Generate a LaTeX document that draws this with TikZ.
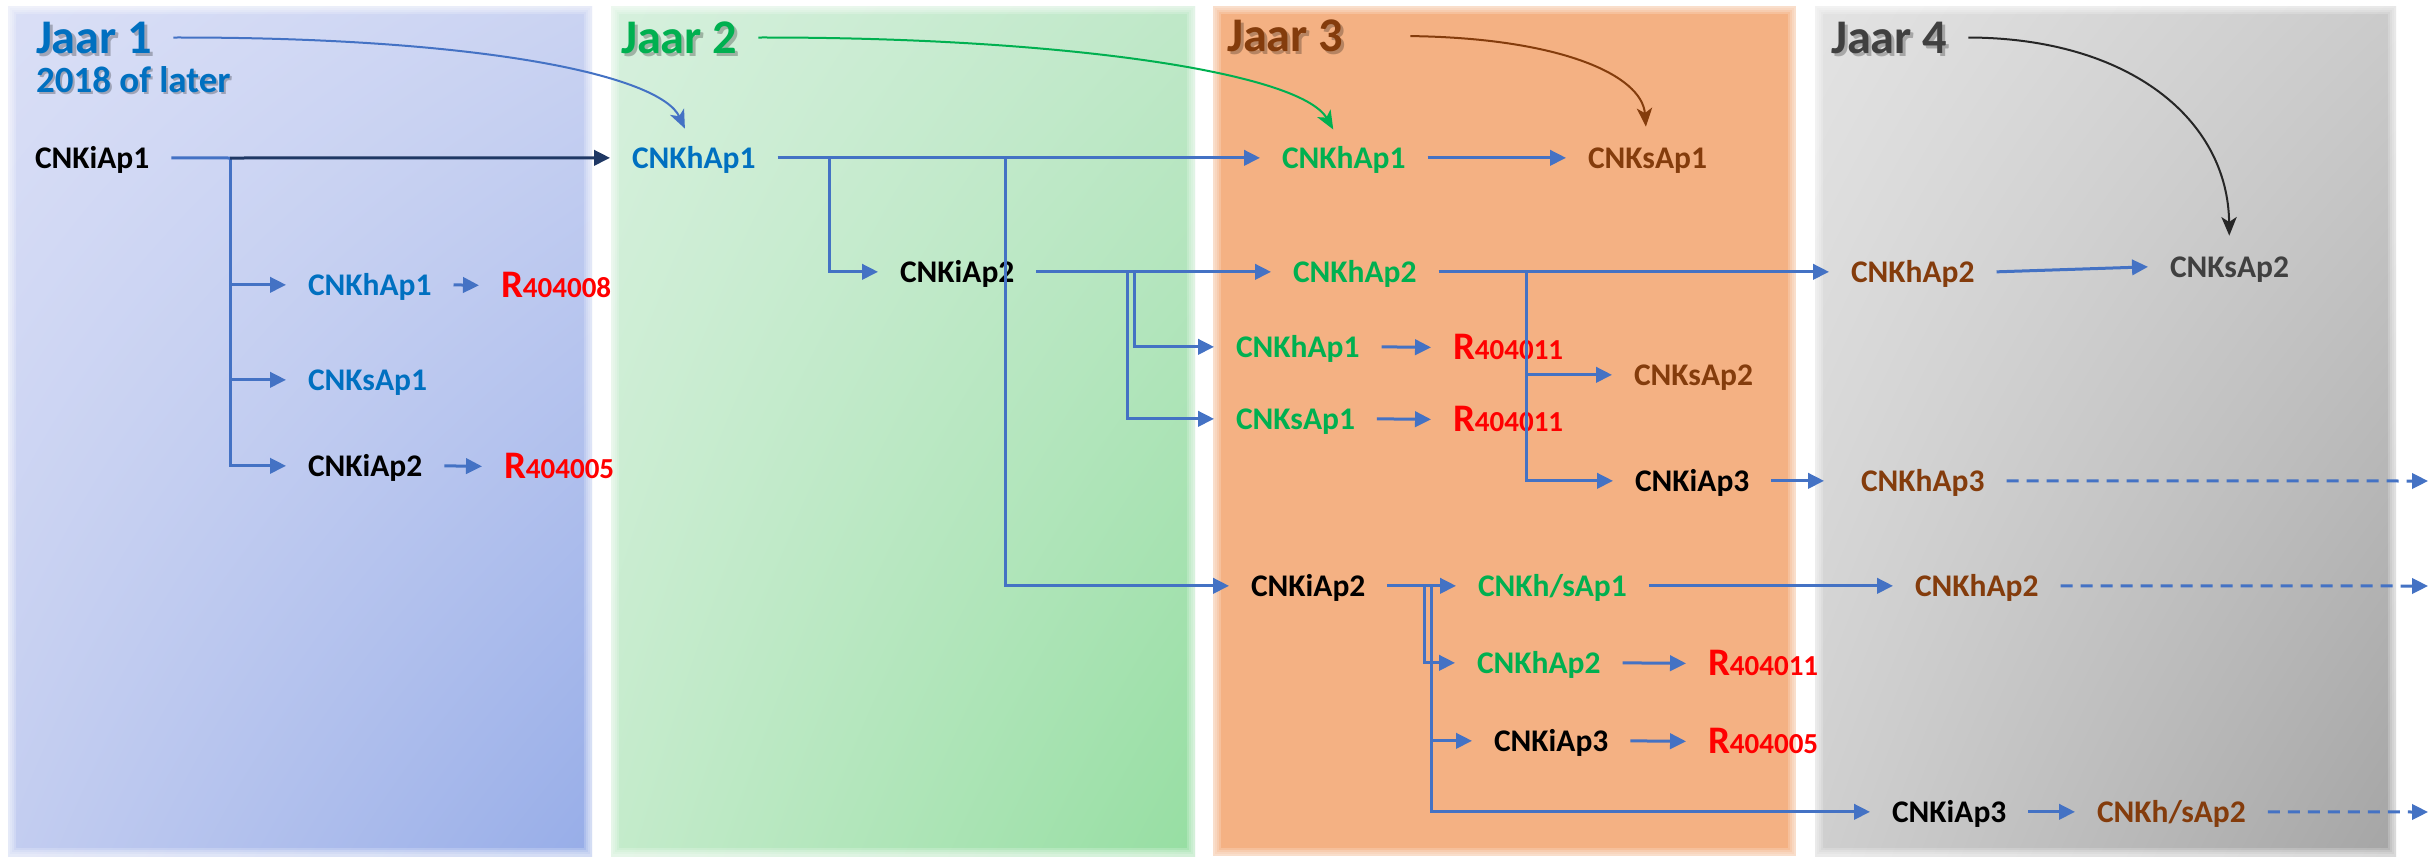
\documentclass[tikz,border=0pt]{standalone}
\usepackage{fontspec}
\setmainfont{Carlito}
\usetikzlibrary{arrows.meta,shadings}
\definecolor{lblue}{HTML}{4472C4}
\definecolor{navy}{HTML}{1F3864}
\definecolor{tblue}{HTML}{0070C0}
\definecolor{tgreen}{HTML}{00B050}
\definecolor{tbrown}{HTML}{843C0C}
\definecolor{tgray}{HTML}{404040}
\definecolor{tred}{HTML}{FF0000}
\definecolor{pAul}{HTML}{DADFF6}
\definecolor{pAur}{HTML}{CAD3F2}
\definecolor{pAll}{HTML}{C3CDF0}
\definecolor{pAlr}{HTML}{97ADE8}
\definecolor{pBul}{HTML}{D6F0DD}
\definecolor{pBur}{HTML}{BFE8C8}
\definecolor{pBll}{HTML}{C4EBCB}
\definecolor{pBlr}{HTML}{96DEA2}
\definecolor{pC}{HTML}{F4B183}
\definecolor{pDul}{HTML}{E3E3E3}
\definecolor{pDur}{HTML}{CBCBCB}
\definecolor{pDll}{HTML}{CFCFCF}
\definecolor{pDlr}{HTML}{A5A5A5}
\newcommand{\Rcode}[1]{{\fontsize{11.7}{13}\selectfont R}{\fontsize{8.7}{10}\selectfont #1}}
\tikzset{
  lbl/.style={font=\bfseries\fontsize{9.45}{11}\selectfont, inner sep=0pt, outer xsep=6.6pt, outer ysep=0pt, text height=6.1pt, text depth=0pt, anchor=text},
  rlbl/.style={font=\bfseries, text=tred, inner sep=0pt, outer xsep=6.6pt, outer ysep=0pt, text height=7pt, text depth=0pt, anchor=text},
  jlbl/.style={font=\bfseries\fontsize{14.5}{17}\selectfont, inner sep=0pt, outer xsep=6.3pt, outer ysep=0pt, text height=9.3pt, text depth=0pt, anchor=text},
  jshadow/.style={text=black, opacity=0.25},
  conn/.style={draw=lblue, line width=0.9pt, -{Triangle[length=4.8pt,width=4.6pt]}},
  navyconn/.style={draw=navy, line width=0.9pt, -{Triangle[length=4.8pt,width=4.6pt]}},
  dconn/.style={conn, dash pattern=on 3.6pt off 2.4pt},
  curve/.style={line width=0.6pt, -{Stealth[length=5.6pt,width=4.6pt,inset=1.5pt]}, shorten >=6.3pt},
  softedge/.style={draw=white, opacity=0.2},
}
\begin{document}
\begin{tikzpicture}[x=0.3pt,y=-0.3pt]
\path[use as bounding box, fill=white] (0,0) rectangle (2430,860);
% panels
\shade[upper left=pAul, upper right=pAur, lower left=pAll, lower right=pAlr] (8,6) rectangle (592,856);
\shade[upper left=pBul, upper right=pBur, lower left=pBll, lower right=pBlr] (611,6) rectangle (1195,856);
\fill[pC] (1213,6) rectangle (1796,856);
\shade[upper left=pDul, upper right=pDur, lower left=pDll, lower right=pDlr] (1815,6) rectangle (2396,856);
% soft panel edges
\foreach \w in {1.2,2.4,3.6,4.8}{
  \draw[softedge, line width=\w pt] (8,6) rectangle (592,856);
  \draw[softedge, line width=\w pt] (611,6) rectangle (1195,856);
  \draw[softedge, line width=\w pt] (1213,6) rectangle (1796,856);
  \draw[softedge, line width=\w pt] (1815,6) rectangle (2396,856);
}

% year labels (shadow + text)
\node[jlbl, jshadow] (j1s) at (39,56) {Jaar 1};
\node[jlbl, jshadow] (j2s) at (624,56) {Jaar 2};
\node[jlbl, jshadow] (j3s) at (1230,54) {Jaar 3};
\node[jlbl, jshadow] (j4s) at (1834,56) {Jaar 4};
\node[jlbl, jshadow, font=\bfseries\fontsize{11.1}{13}\selectfont] (ys) at (38,94) {2018 of later};
\node[jlbl, text=tblue] (j1) at (36,53) {Jaar 1};
\node[jlbl, text=tgreen] (j2) at (621,53) {Jaar 2};
\node[jlbl, text=tbrown] (j3) at (1227,51) {Jaar 3};
\node[jlbl, text=tgray] (j4) at (1831,53) {Jaar 4};
\node[jlbl, text=tblue, font=\bfseries\fontsize{11.1}{13}\selectfont] (yr) at (36,92) {2018 of later};

% nodes
\node[lbl, text=black] (iap1) at (35,168) {CNKiAp1};
\node[lbl, text=tblue] (hap1a) at (308,295) {CNKhAp1};
\node[rlbl] (r1) at (501,297) {\Rcode{404008}};
\node[lbl, text=tblue] (sap1a) at (308,390) {CNKsAp1};
\node[lbl, text=black] (iap2a) at (308,476) {CNKiAp2};
\node[rlbl] (r2) at (504,478) {\Rcode{404005}};

\node[lbl, text=tblue] (hap1b) at (632,168) {CNKhAp1};
\node[lbl, text=black] (iap2b) at (900,282) {CNKiAp2};

\node[lbl, text=tgreen] (hap1c) at (1282,168) {CNKhAp1};
\node[lbl, text=tbrown] (sap1c) at (1588,168) {CNKsAp1};
\node[lbl, text=tgreen] (hap2c) at (1293,282) {CNKhAp2};
\node[lbl, text=tgreen] (hap1e) at (1236,357) {CNKhAp1};
\node[rlbl] (r3) at (1453,359) {\Rcode{404011}};
\node[lbl, text=tbrown] (sap2c) at (1634,385) {CNKsAp2};
\node[lbl, text=tgreen] (sap1e) at (1236,429) {CNKsAp1};
\node[rlbl] (r4) at (1453,431) {\Rcode{404011}};
\node[lbl, text=black] (iap3c) at (1635,491) {CNKiAp3};
\node[lbl, text=black] (iap2c) at (1251,596) {CNKiAp2};
\node[lbl, text=tgreen] (hsap1c) at (1478,596) {CNKh/sAp1};
\node[lbl, text=tgreen] (hap2f) at (1477,673) {CNKhAp2};
\node[rlbl] (r5) at (1708,675) {\Rcode{404011}};
\node[lbl, text=black] (iap3e) at (1494,751) {CNKiAp3};
\node[rlbl] (r6) at (1708,753) {\Rcode{404005}};

\node[lbl, text=tbrown] (hap2d) at (1851,282) {CNKhAp2};
\node[lbl, text=tgray] (sap2d) at (2170,277) {CNKsAp2};
\node[lbl, text=tbrown] (hap3d) at (1861,491) {CNKhAp3};
\node[lbl, text=tbrown] (hap2e) at (1915,596) {CNKhAp2};
\node[lbl, text=black] (iap3f) at (1892,822) {CNKiAp3};
\node[lbl, text=tbrown] (hsap2f) at (2097,822) {CNKh/sAp2};

\coordinate (e1) at (2428,481);
\coordinate (e2) at (2428,586);
\coordinate (e3) at (2428,812);
\coordinate (t1) at (230,158);
\coordinate (t2) at (829,158);
\coordinate (t3) at (1005,158);
\coordinate (t4) at (1127,272);
\coordinate (t5) at (1134,272);
\coordinate (t6) at (1526,272);
\coordinate (t7) at (1424,586);
\coordinate (t8) at (1431,586);

% year 1
\draw[conn, -] (iap1.east) -- (t1);
\draw[conn] (t1) |- (hap1a.west);
\draw[conn] (t1) |- (sap1a.west);
\draw[conn] (t1) |- (iap2a.west);
\draw[navyconn] (t1) -- (hap1b.west);
\draw[conn] (hap1a.east) -- (r1.west);
\draw[conn] (iap2a.east) -- (r2.west);

% year 2
\draw[conn] (hap1b.east) -- (hap1c.west);
\draw[conn] (t2) |- (iap2b.west);
\draw[conn] (t3) |- (iap2c.west);
\draw[conn] (iap2b.east) -- (hap2c.west);
\draw[conn] (t5) |- (hap1e.west);
\draw[conn] (t4) |- (sap1e.west);

% year 3
\draw[conn] (hap1c.east) -- (sap1c.west);
\draw[conn] (hap1e.east) -- (r3.west);
\draw[conn] (sap1e.east) -- (r4.west);
\draw[conn] (hap2c.east) -- (hap2d.west);
\draw[conn] (t6) |- (sap2c.west);
\draw[conn] (t6) |- (iap3c.west);
\draw[conn, shorten >=4.5pt] (iap3c.east) -- (hap3d.west);
\draw[conn] (iap2c.east) -- (hsap1c.west);
\draw[conn] (t7) |- (hap2f.west);
\draw[conn] (t8) |- (iap3e.west);
\draw[conn] (t8) |- (iap3f.west);
\draw[conn] (hap2f.east) -- (r5.west);
\draw[conn] (iap3e.east) -- (r6.west);

% year 4
\draw[conn] (hap2d.east) -- (sap2d.west);
\draw[dconn] (hap3d.east) -- (e1);
\draw[conn] (hsap1c.east) -- (hap2e.west);
\draw[dconn] (hap2e.east) -- (e2);
\draw[conn] (iap3f.east) -- (hsap2f.west);
\draw[dconn] (hsap2f.east) -- (e3);

% curves
\draw[curve, draw=lblue] (j1.east) .. controls (480,37) and (660,75) .. (hap1b.north);
\draw[curve, draw=tgreen] (j2.east) .. controls (1060,37) and (1300,72) .. (hap1c.north);
\draw[curve, draw=tbrown, shorten <=13.8pt] (j3.east) .. controls (1560,38) and (1642,75) .. (sap1c.north);
\draw[curve, draw=black!85] (j4.east) .. controls (2130,38) and (2228,120) .. (sap2d.north);
\end{tikzpicture}
\end{document}
